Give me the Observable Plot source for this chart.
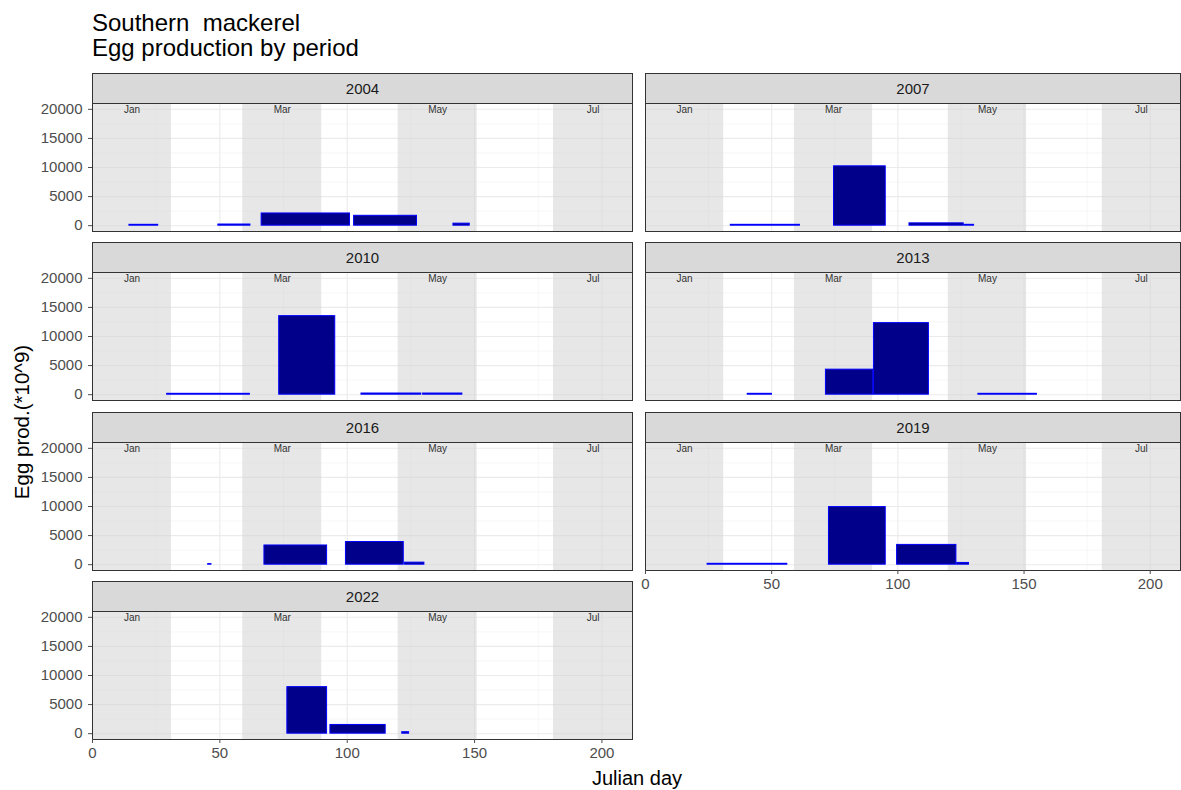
<!DOCTYPE html>
<html><head><meta charset="utf-8">
<script src="https://cdn.jsdelivr.net/npm/d3@7"></script>
<script src="https://cdn.jsdelivr.net/npm/@observablehq/plot@0.6"></script>
<style>
body{margin:0;background:#fff;font-family:"Liberation Sans",Arial,sans-serif;}
#root{position:relative;width:1181px;height:790px;overflow:hidden;background:#fff;}
.t{position:absolute;white-space:nowrap;color:#000;}
.strip{position:absolute;background:#d9d9d9;border:1px solid #333;box-sizing:border-box;text-align:center;font-size:15px;color:#1a1a1a;}
svg{position:absolute;overflow:visible;}
</style></head><body><div id="root"></div>
<script>
// ---- data ----
const years = [2004, 2007, 2010, 2013, 2016, 2019, 2022];
const barYear  = [2004, 2004, 2004, 2004, 2004,
                  2007, 2007, 2007, 2007,
                  2010, 2010, 2010, 2010,
                  2013, 2013, 2013, 2013,
                  2016, 2016, 2016, 2016,
                  2019, 2019, 2019, 2019,
                  2022, 2022, 2022];
const barStart = [14.5, 49.4, 66.4, 102.7, 141.7,
                  33.8, 74.7, 104.6, 126.4,
                  29.3, 73.3, 105.6, 129.8,
                  40.5, 71.5, 90.5, 131.9,
                  45.4, 67.5, 99.5, 122.7,
                  24.6, 72.7, 99.7, 123.5,
                  76.5, 93.4, 121.6];
const barEnd   = [25.8, 62.0, 101.1, 127.4, 148.1,
                  61.2, 95.2, 126.1, 130.2,
                  61.8, 95.3, 129.1, 145.2,
                  50.1, 90.3, 112.3, 155.1,
                  46.7, 92.1, 122.2, 130.3,
                  56.2, 95.2, 123.2, 128.2,
                  92.1, 115.1, 124.3];
const barValue = [150, 200, 2100, 1700, 350,
                  150, 10200, 400, 150,
                  150, 13500, 200, 200,
                  150, 4300, 12300, 150,
                  100, 3300, 3900, 350,
                  150, 9900, 3400, 300,
                  8000, 1500, 250];
const monthNames = ["Jan", "Mar", "May", "Jul"];
const monthStart = [0, 59, 120, 181];
const monthEnd   = [31, 90, 151, 212];
const xTicks = [0, 50, 100, 150, 200];
const xMinor = [25, 75, 125, 175];
const yTicks = [0, 5000, 10000, 15000, 20000];
const yMinor = [2500, 7500, 12500, 17500];

const bars = barYear.map((y, i) => ({year: y, start: barStart[i], end: barEnd[i], value: barValue[i]}));
const months = monthNames.map((m, i) => ({name: m, start: monthStart[i], end: monthEnd[i], mid: (monthStart[i] + monthEnd[i]) / 2}));

const root = document.getElementById("root");
function addText(txt, css) { const d = document.createElement("div"); d.className = "t"; d.textContent = txt; Object.assign(d.style, css); root.appendChild(d); return d; }

addText("Southern  mackerel", {left: "92px", top: "10px", fontSize: "24px", lineHeight: "25px", whiteSpace: "pre"});
addText("Egg production by period", {left: "92px", top: "35px", fontSize: "24px", lineHeight: "25px"});
addText("Egg prod.(*10^9)", {left: "21px", top: "422px", fontSize: "20.5px", lineHeight: "21px", transform: "translate(-50%,-50%) rotate(-90deg)"});
addText("Julian day", {left: "637px", top: "778px", fontSize: "20px", lineHeight: "21px", transform: "translate(-50%,-50%)"});

const stripTops = [73, 242, 412, 581];
const stripH = 31, panelH = 128;
const colLeft = [92, 645], colRight = [632, 1180];

years.forEach((yr, k) => {
  const col = k % 2, row = Math.floor(k / 2);
  const isBottom = (yr === 2022 || yr === 2019);
  const isLeft = col === 0;
  const sTop = stripTops[row];
  const pTop = sTop + stripH - 1;
  const s = document.createElement("div");
  s.className = "strip";
  Object.assign(s.style, {left: colLeft[col] + "px", top: sTop + "px", width: (colRight[col] - colLeft[col] + 1) + "px", height: stripH + "px", lineHeight: (stripH - 2) + "px"});
  s.textContent = String(yr);
  const svgLeft = isLeft ? 0 : 600;
  const ml = colLeft[col] - svgLeft;
  const w = colRight[col] + 1 - svgLeft;
  const mb = isBottom ? 40 : 1;
  const marks = [
    Plot.ruleX(xMinor, {stroke: "#f2f2f2", strokeWidth: 0.6}),
    Plot.ruleY(yMinor, {stroke: "#f2f2f2", strokeWidth: 0.6}),
    Plot.ruleX(xTicks, {stroke: "#ebebeb", strokeWidth: 1.1}),
    Plot.ruleY(yTicks, {stroke: "#ebebeb", strokeWidth: 1.1}),
    Plot.rect(months, {x1: "start", x2: "end", fill: "#d4d4d4", fillOpacity: 0.55}),
    Plot.rect(bars.filter(d => d.year === yr), {x1: "start", x2: "end", y1: 0, y2: "value", fill: "#00008b", stroke: "#0000ff", strokeWidth: 1}),
    Plot.text(months, {x: "mid", y: 20000, text: "name", fontSize: 10, fill: "#333"}),
    Plot.frame({stroke: "#333", strokeWidth: 1})
  ];
  if (isLeft) marks.push(Plot.axisY({ticks: yTicks, tickFormat: d3.format("d"), tickSize: 4, tickPadding: 6, fontSize: 15, label: null, color: "#4d4d4d"}));
  if (isBottom) marks.push(Plot.axisX({ticks: xTicks, tickFormat: d3.format("d"), tickSize: 4, tickPadding: 4, fontSize: 15, label: null, color: "#4d4d4d"}));
  const p = Plot.plot({
    width: w, height: panelH + 1 + mb,
    marginLeft: ml, marginRight: 1, marginTop: 1, marginBottom: mb,
    x: {domain: [0, 212], axis: null},
    y: {domain: [-1000, 21000], axis: null},
    style: {fontFamily: "Liberation Sans, Arial, sans-serif", fontSize: "15px", color: "#4d4d4d", background: "transparent"},
    marks
  });
  p.style.left = svgLeft + "px";
  p.style.top = (pTop - 1) + "px";
  root.appendChild(p);
  root.appendChild(s);
});
</script></body></html>
